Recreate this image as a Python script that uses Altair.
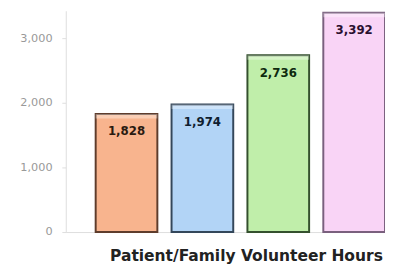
import altair as alt
import pandas as pd

categories = ["A", "B", "C", "D"]
values = [1828, 1974, 2736, 3392]
labels = ["1,828", "1,974", "2,736", "3,392"]
fills = ["#F8B48E", "#B2D4F6", "#C0EEAA", "#F9D4F6"]
strokes = ["#5E3C2C", "#34475A", "#34502E", "#7A607E"]
text_colors = ["#2A1A10", "#101E30", "#0E2A0E", "#2A1030"]

df = pd.DataFrame({"cat": categories, "value": values, "label": labels})

x = alt.X("cat:N", sort=categories,
          scale=alt.Scale(paddingInner=0.187, paddingOuter=0.197, align=1),
          axis=alt.Axis(labels=False, ticks=False, domainColor="#dddddd",
                        title="Patient/Family Volunteer Hours",
                        titleFont="DejaVu Sans", titleFontSize=15.8,
                        titleFontWeight="bold", titleColor="#222222",
                        titleX=184, titlePadding=17, titleAlign="center"))
y = alt.Y("value:Q",
          scale=alt.Scale(domain=[0, 3424], nice=False),
          axis=alt.Axis(values=[0, 1000, 2000, 3000], format=",d",
                        labelColor="#999999", labelFont="DejaVu Sans",
                        labelFontSize=11.5, tickColor="#dddddd", tickSize=4,
                        labelPadding=10, domainColor="#dddddd", grid=False,
                        title=None))

bars = alt.Chart(df).mark_bar(strokeWidth=2).encode(
    x=x, y=y,
    fill=alt.Color("cat:N", scale=alt.Scale(domain=categories, range=fills), legend=None),
    stroke=alt.Stroke("cat:N", scale=alt.Scale(domain=categories, range=strokes), legend=None),
)

bevel = alt.Chart(df).transform_calculate(top2="datum.value - 70").mark_bar(
    color="white", opacity=0.35, strokeWidth=0
).encode(x=x, y=y, y2="top2:Q")

text = alt.Chart(df).mark_text(
    baseline="top", dy=13, font="DejaVu Sans", fontSize=12, fontWeight="bold"
).encode(
    x=x, y=y, text="label:N",
    color=alt.Color("cat:N", scale=alt.Scale(domain=categories, range=text_colors), legend=None),
)

chart = alt.layer(bars, bevel, text).resolve_scale(color="independent").properties(
    width=326, height=226,
    background="white",
    autosize=alt.AutoSizeParams(type="none"),
    padding={"left": 59, "top": 0, "right": 0, "bottom": 38},
).configure_view(stroke=None)

chart.save("out.html", embed_options={"renderer": "svg", "actions": False})
